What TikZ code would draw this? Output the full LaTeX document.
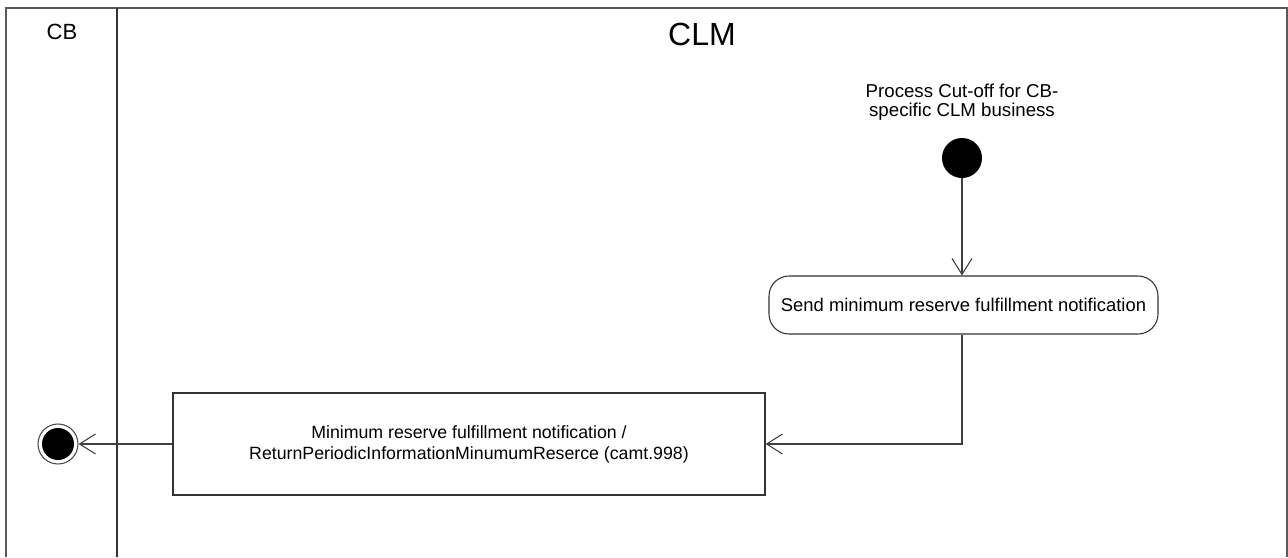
\documentclass[tikz,border=0pt]{standalone}
\usepackage{fontspec}
\setmainfont{Liberation Sans}
\usetikzlibrary{arrows.meta}
\tikzset{
  lane/.style={draw=black!80, line width=1.1pt},
  frame/.style={draw=black!65, line width=1.3pt},
  flow/.style={draw=black!75, line width=0.8pt, -{Straight Barb[length=12pt,width=15pt,line width=0.8pt]}},
  action/.style={draw=black!80, line width=0.8pt, rounded corners=15pt, minimum width=389*0.75pt, minimum height=58*0.75pt, inner sep=0pt, font=\fontsize{13.8pt}{16pt}\selectfont},
  msgbox/.style={draw=black!80, line width=0.8pt, minimum width=592*0.75pt, minimum height=102*0.75pt, inner sep=0pt, align=center, font=\fontsize{13.3pt}{15.75pt}\selectfont},
  startnode/.style={circle, fill=black, minimum size=40*0.75pt, inner sep=0pt},
  endnode/.style={circle, draw=black!70, line width=0.8pt, fill=white, minimum size=40*0.75pt, inner sep=0pt, path picture={\fill[black] (path picture bounding box.center) circle (16*0.75pt);}},
  lbl/.style={align=center, font=\fontsize{14pt}{14.25pt}\selectfont}
}
\begin{document}
\begin{tikzpicture}[x=0.75pt,y=-0.75pt]
\useasboundingbox (0,0) rectangle (1288,557);
% swimlanes
\draw[frame] (6,557) -- (6,8) -- (1287,8) -- (1287,557);
\draw[lane] (117,8) -- (117,557);
\node[font=\fontsize{16.5pt}{18pt}\selectfont] (cb) at (62,32) {CB};
\node[font=\fontsize{24pt}{26pt}\selectfont] (clm) at (702,34) {CLM};
% nodes
\node[lbl] (startlbl) at (962,102) {Process Cut-off for CB-\\specific CLM business};
\node[startnode] (start) at (962,158) {};
\node[action] (send) at (963.5,305) {Send minimum reserve fulfillment notification};
\node[msgbox] (msg) at (469,444) {Minimum reserve fulfillment notification /\\ReturnPeriodicInformationMinumumReserce (camt.998)};
\node[endnode] (final) at (58,444) {};
\coordinate (bend) at (962,444);
% connectors
\draw[flow] (start) -- (send.north -| start);
\draw[flow] (send.south -| bend) -- (bend) -- (msg.east);
\draw[flow] (msg.west) -- (final);
\end{tikzpicture}
\end{document}
